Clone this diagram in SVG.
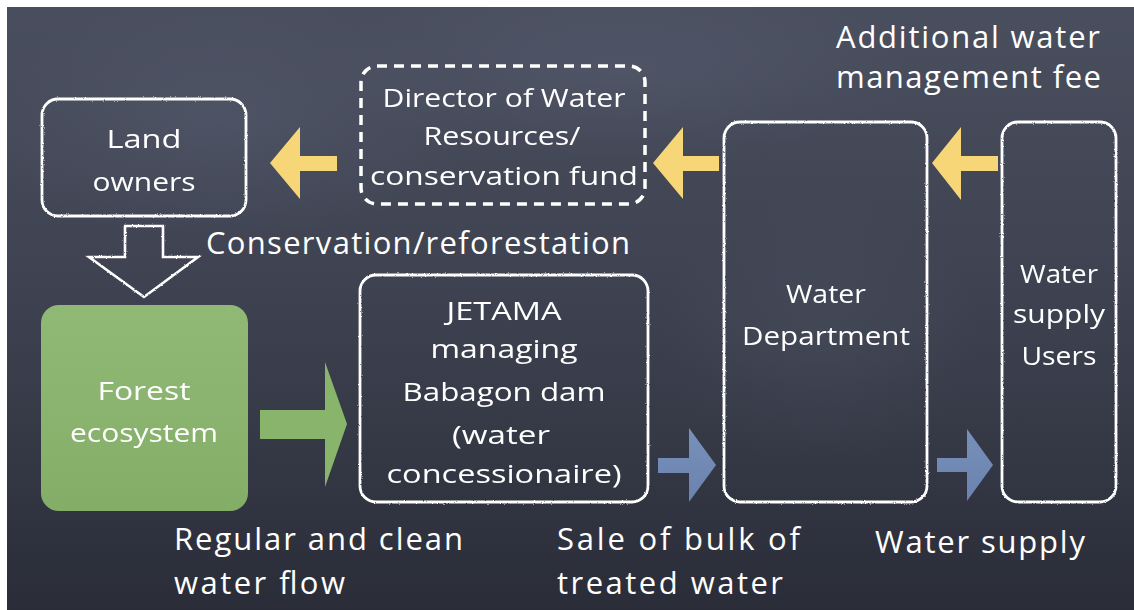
<svg xmlns="http://www.w3.org/2000/svg" width="1134" height="610" viewBox="0 0 1134 610">
  <defs>
    <linearGradient id="slate" x1="0" y1="0" x2="0" y2="1">
      <stop offset="0" stop-color="#4a4f5f"/>
      <stop offset="0.55" stop-color="#3c404e"/>
      <stop offset="1" stop-color="#2a2d38"/>
    </linearGradient>
    <radialGradient id="smudge" cx="0.5" cy="0.5" r="0.5">
      <stop offset="0" stop-color="#667085" stop-opacity="0.25"/>
      <stop offset="1" stop-color="#667085" stop-opacity="0"/>
    </radialGradient>
    <linearGradient id="leaf" x1="0" y1="0" x2="0" y2="1">
      <stop offset="0" stop-color="#90b975"/>
      <stop offset="1" stop-color="#84ae68"/>
    </linearGradient>
    <linearGradient id="steel" x1="0" y1="0" x2="0" y2="1">
      <stop offset="0" stop-color="#7891bb"/>
      <stop offset="1" stop-color="#6a82ad"/>
    </linearGradient>
    <!-- rough chalk edge -->
    <filter id="chalk" x="-5%" y="-5%" width="110%" height="110%">
      <feTurbulence type="fractalNoise" baseFrequency="0.9" numOctaves="2" seed="3" result="n"/>
      <feDisplacementMap in="SourceGraphic" in2="n" scale="2.2" xChannelSelector="R" yChannelSelector="G"/>
    </filter>
    <filter id="chalkText" x="-5%" y="-10%" width="110%" height="120%">
      <feTurbulence type="fractalNoise" baseFrequency="1.2" numOctaves="1" seed="7" result="n"/>
      <feDisplacementMap in="SourceGraphic" in2="n" scale="1.2" xChannelSelector="R" yChannelSelector="G"/>
    </filter>
  </defs>
  <style>
    .box { fill: none; stroke: #ffffff; stroke-width: 2.8; }
    .dash { fill: none; stroke: #ffffff; stroke-width: 3.5; stroke-dasharray: 10 7; }
    .hand { font-family: "Open Sans", "Noto Sans", sans-serif; font-size: 26px; fill: #ffffff; text-anchor: middle; }
    .label { font-family: "Open Sans", "Noto Sans", sans-serif; font-size: 31px; fill: #ffffff; }
    .yellow { fill: #f7d678; }
    .green { fill: #89b46c; }
    .blue { fill: url(#steel); }
  </style>

  <!-- chalkboard -->
  <rect x="0" y="0" width="1134" height="610" fill="url(#slate)"/>
  <ellipse cx="220" cy="120" rx="260" ry="120" fill="url(#smudge)"/>
  <ellipse cx="620" cy="70" rx="300" ry="90" fill="url(#smudge)"/>
  <ellipse cx="820" cy="330" rx="160" ry="140" fill="url(#smudge)" opacity="0.6"/>
  <rect x="0" y="0" width="1134" height="7" fill="#ffffff"/>
  <rect x="0" y="0" width="7" height="610" fill="#ffffff"/>

  <!-- connectors -->
  <g id="connectors">
    <polygon id="fee-to-director" class="yellow" points="270,163 300,127 300,156 337,156 337,171 300,171 300,199"/>
    <polygon id="dept-to-director" class="yellow" points="653,163 683,127 683,156 719,156 719,171 683,171 683,199"/>
    <polygon id="users-to-dept" class="yellow" points="932,163 961,127 961,156 998,156 998,171 961,171 961,200"/>
    <polygon id="owners-to-forest" points="125,226 163,226 163,257 198,257 144,297 89,257 125,257" fill="none" stroke="#ffffff" stroke-width="2.6" stroke-linejoin="miter" filter="url(#chalk)"/>
    <polygon id="forest-to-jetama" class="green" points="260,410 325,410 325,362 347,424 325,487 325,439 260,439"/>
    <polygon id="jetama-to-dept" class="blue" points="658,458 689,458 689,428 716,465 689,502 689,473 658,473"/>
    <polygon id="dept-to-users" class="blue" points="937,458 967,458 967,429 993,465 967,501 967,472 937,472"/>
  </g>

  <!-- edge labels -->
  <g id="labels">
    <text class="label" x="836" y="48" textLength="264">Additional water</text>
    <text class="label" x="836" y="88" textLength="265">management fee</text>
    <text class="label" x="206" y="254" textLength="424">Conservation/reforestation</text>
    <text class="label" x="174" y="550" textLength="289">Regular and clean</text>
    <text class="label" x="174" y="594" textLength="171">water flow</text>
    <text class="label" x="557" y="550" textLength="243">Sale of bulk of</text>
    <text class="label" x="557" y="594" textLength="226">treated water</text>
    <text class="label" x="875" y="553" textLength="210">Water supply</text>
  </g>

  <!-- nodes -->
  <g id="land-owners">
    <rect class="box" x="42" y="99" width="204" height="117" rx="16" filter="url(#chalk)"/>
    <g filter="url(#chalkText)">
      <text class="hand" x="144" y="148" textLength="75" lengthAdjust="spacingAndGlyphs">Land</text>
      <text class="hand" x="144" y="191" textLength="103" lengthAdjust="spacingAndGlyphs">owners</text>
    </g>
  </g>

  <g id="director-water-resources">
    <rect class="dash" x="361" y="66" width="284" height="138" rx="16"/>
    <g filter="url(#chalkText)">
      <text class="hand" x="504" y="107" textLength="243" lengthAdjust="spacingAndGlyphs">Director of Water</text>
      <text class="hand" x="502" y="145" textLength="157" lengthAdjust="spacingAndGlyphs">Resources/</text>
      <text class="hand" x="504" y="185" textLength="268" lengthAdjust="spacingAndGlyphs">conservation fund</text>
    </g>
  </g>

  <g id="forest-ecosystem">
    <rect x="41" y="305" width="207" height="206" rx="18" fill="url(#leaf)"/>
    <g filter="url(#chalkText)">
      <text class="hand" x="144" y="400" textLength="93" lengthAdjust="spacingAndGlyphs">Forest</text>
      <text class="hand" x="144" y="442" textLength="148" lengthAdjust="spacingAndGlyphs">ecosystem</text>
    </g>
  </g>

  <g id="jetama">
    <rect class="box" x="360" y="275" width="288" height="227" rx="16" filter="url(#chalk)"/>
    <g filter="url(#chalkText)">
      <text class="hand" x="504" y="320" textLength="115" lengthAdjust="spacingAndGlyphs">JETAMA</text>
      <text class="hand" x="504" y="358" textLength="147" lengthAdjust="spacingAndGlyphs">managing</text>
      <text class="hand" x="504" y="401" textLength="203" lengthAdjust="spacingAndGlyphs">Babagon dam</text>
      <text class="hand" x="501" y="444" textLength="98" lengthAdjust="spacingAndGlyphs">(water</text>
      <text class="hand" x="504" y="483" textLength="235" lengthAdjust="spacingAndGlyphs">concessionaire)</text>
    </g>
  </g>

  <g id="water-department">
    <rect class="box" x="724" y="122" width="203" height="380" rx="16" filter="url(#chalk)"/>
    <g filter="url(#chalkText)">
      <text class="hand" x="826" y="303" textLength="80" lengthAdjust="spacingAndGlyphs">Water</text>
      <text class="hand" x="826" y="345" textLength="168" lengthAdjust="spacingAndGlyphs">Department</text>
    </g>
  </g>

  <g id="water-supply-users">
    <rect class="box" x="1002" y="122" width="114" height="380" rx="16" filter="url(#chalk)"/>
    <g filter="url(#chalkText)">
      <text class="hand" x="1059" y="283" textLength="78" lengthAdjust="spacingAndGlyphs">Water</text>
      <text class="hand" x="1059" y="323" textLength="92" lengthAdjust="spacingAndGlyphs">supply</text>
      <text class="hand" x="1059" y="365" textLength="75" lengthAdjust="spacingAndGlyphs">Users</text>
    </g>
  </g>
</svg>
